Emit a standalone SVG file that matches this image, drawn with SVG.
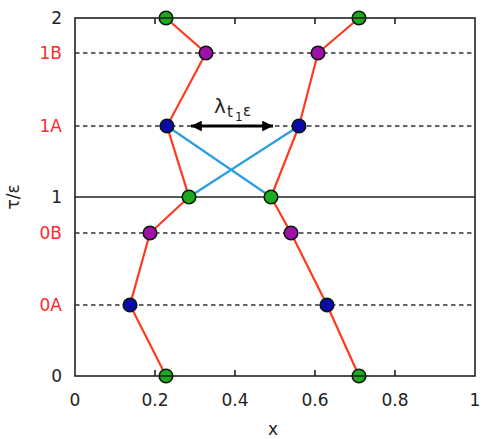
<svg xmlns="http://www.w3.org/2000/svg" width="483" height="439" viewBox="0 0 483 439">
<style>
text{font-family:"DejaVu Sans","Liberation Sans",sans-serif;fill:#222}
.lab{font-size:17px}
.red{fill:#ff2a2a}
.dash{stroke:#333;stroke-width:1.5;stroke-dasharray:4.5,3.5;fill:none}
.path{stroke:#ff3a1f;stroke-width:2.2;fill:none}
.cross{stroke:#2a9fe0;stroke-width:2.2;fill:none}
.m{stroke:#0a1a0a;stroke-width:1.6}
.g{fill:#1eaa1e}
.p{fill:#a010a8}
.b{fill:#0a0aa8}
.frame{stroke:#222;stroke-width:1.6;fill:none}
</style>
<defs>
<marker id="ah" viewBox="0 0 10 10" refX="10" refY="5" markerWidth="5" markerHeight="3.6" orient="auto-start-reverse" markerUnits="strokeWidth">
<path d="M0,0 L10,5 L0,10 Z" fill="#000"/>
</marker>
</defs>
<rect width="483" height="439" fill="#fff"/>
<g id="gridlines">
<line class="dash" x1="75" y1="53" x2="475" y2="53"/>
<line class="dash" x1="75" y1="126" x2="475" y2="126"/>
<line class="dash" x1="75" y1="233" x2="475" y2="233"/>
<line class="dash" x1="75" y1="305" x2="475" y2="305"/>
<line x1="75" y1="197" x2="475" y2="197" stroke="#222" stroke-width="1.6"/>
</g>
<g id="connectors">
<polyline class="path" points="166,376 130,305 150,233 189,197 167,126 206,53 166,18"/>
<polyline class="path" points="359,376 327,305 291,233 271,197 299,126 318,53 359,18"/>
<line class="cross" x1="167" y1="126" x2="271" y2="197"/>
<line class="cross" x1="299" y1="126" x2="189" y2="197"/>
<line x1="191" y1="126" x2="273" y2="126" stroke="#000" stroke-width="3" marker-start="url(#ah)" marker-end="url(#ah)"/>
</g>
<g id="label-lambda">
<text x="214" y="113" font-size="20">λ</text>
<text x="227" y="117" font-size="15">t</text>
<text x="235" y="121" font-size="12">1</text>
<text x="243" y="116" font-size="15">ε</text>
</g>
<g id="nodes">
<circle id="L0" class="m g" cx="166" cy="376" r="6.8"/>
<circle id="L0A" class="m b" cx="130" cy="305" r="6.8"/>
<circle id="L0B" class="m p" cx="150" cy="233" r="6.8"/>
<circle id="L1" class="m g" cx="189" cy="197" r="6.8"/>
<circle id="L1A" class="m b" cx="167" cy="126" r="6.8"/>
<circle id="L1B" class="m p" cx="206" cy="53" r="6.8"/>
<circle id="L2" class="m g" cx="166" cy="18" r="6.8"/>
<circle id="R0" class="m g" cx="359" cy="376" r="6.8"/>
<circle id="R0A" class="m b" cx="327" cy="305" r="6.8"/>
<circle id="R0B" class="m p" cx="291" cy="233" r="6.8"/>
<circle id="R1" class="m g" cx="271" cy="197" r="6.8"/>
<circle id="R1A" class="m b" cx="299" cy="126" r="6.8"/>
<circle id="R1B" class="m p" cx="318" cy="53" r="6.8"/>
<circle id="R2" class="m g" cx="359" cy="18" r="6.8"/>
</g>
<g id="axes">
<rect class="frame" x="75" y="18" width="400" height="358"/>
<path class="frame" d="M155,18v6M235,18v6M315,18v6M395,18v6M155,376v-6M235,376v-6M315,376v-6M395,376v-6"/>
</g>
<g id="ticklabels" class="lab">
<text x="62" y="24" text-anchor="end">2</text>
<text x="62" y="59" text-anchor="end" class="red">1B</text>
<text x="62" y="132" text-anchor="end" class="red">1A</text>
<text x="62" y="203" text-anchor="end">1</text>
<text x="62" y="239" text-anchor="end" class="red">0B</text>
<text x="62" y="311" text-anchor="end" class="red">0A</text>
<text x="62" y="382" text-anchor="end">0</text>
<text x="75" y="406" text-anchor="middle">0</text>
<text x="155" y="406" text-anchor="middle">0.2</text>
<text x="235" y="406" text-anchor="middle">0.4</text>
<text x="315" y="406" text-anchor="middle">0.6</text>
<text x="395" y="406" text-anchor="middle">0.8</text>
<text x="475" y="406" text-anchor="middle">1</text>
<text x="273" y="435" text-anchor="middle">x</text>
<text transform="translate(19,197) rotate(-90)" text-anchor="middle">τ/ε</text>
</g>
</svg>
